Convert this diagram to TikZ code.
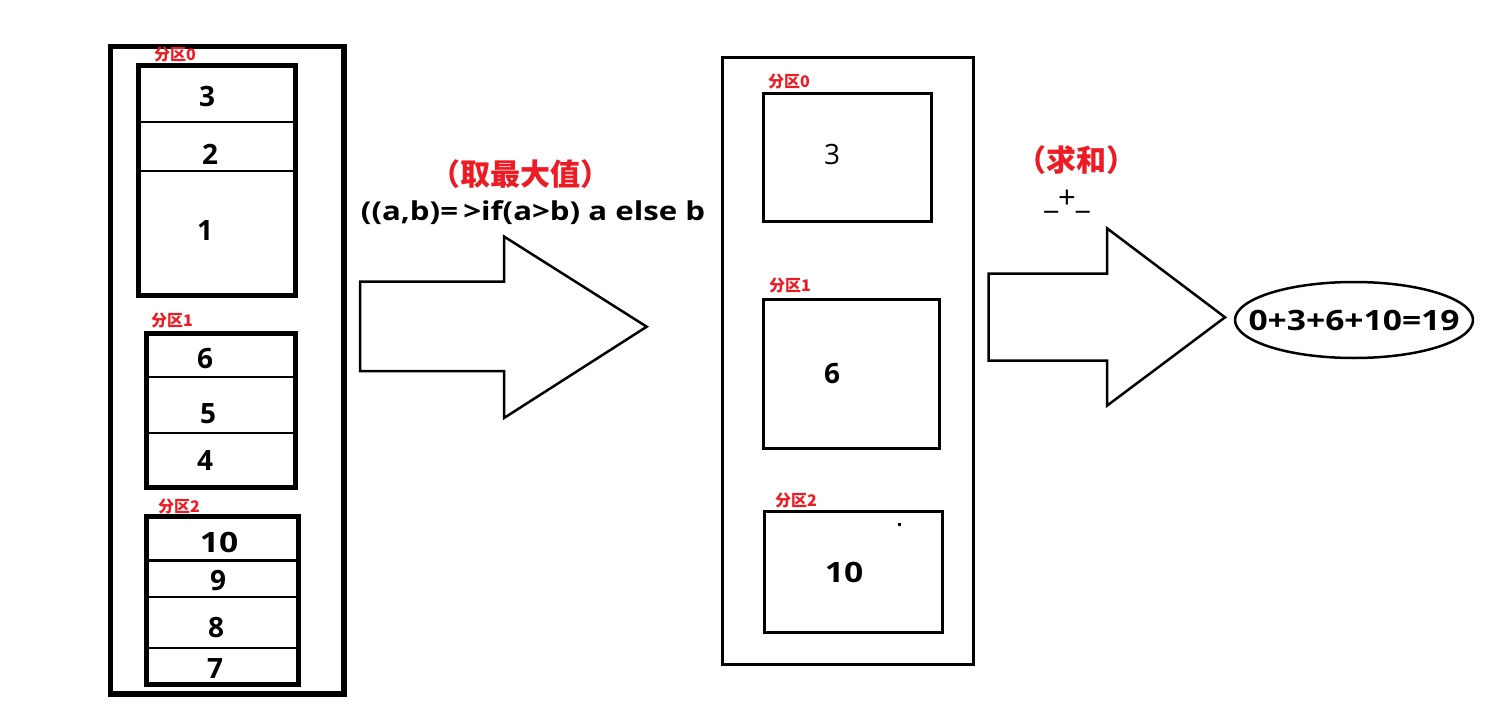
\documentclass[tikz,border=0pt]{standalone}
\usepackage{fontspec}
\setmainfont{Open Sans}
\newfontfamily\cjk{Noto Sans CJK SC}
\usetikzlibrary{shapes.geometric}
\definecolor{pred}{RGB}{237,28,36}
\newcommand{\wide}[1]{\scalebox{1.2}[1]{#1}}
\begin{document}
\begin{tikzpicture}[x=1pt,y=-1pt,
  num/.style={font=\fontsize{28}{28}\selectfont\bfseries, inner sep=0pt},
  numreg/.style={font=\fontsize{28}{28}\selectfont, inner sep=0pt},
  plabel/.style={font=\cjk\bfseries\fontsize{16}{16}\selectfont, text=pred, inner sep=0pt},
  heavy/.style={line width=5.5pt},
  part/.style={line width=5pt},
  divider/.style={line width=2.5pt},
  thinbox/.style={line width=3pt},
  bigarrow/.style={line width=2.5pt, line join=miter, fill=white},
  redtitle/.style={font=\cjk\bfseries\fontsize{30}{30}\selectfont, text=pred, inner sep=0pt},
  formula/.style={font=\fontsize{26}{26}\selectfont\bfseries, inner sep=0pt}
]
\useasboundingbox (0,0) rectangle (1487,711);
\fill[white] (0,0) rectangle (1487,711);

% ---- left column ----
\draw[heavy] (110.5,46.5) rectangle (344,694);

% partition 0
\node[plabel] (l0) at (175,55) {分区0};
\draw[part] (138.5,66) rectangle (295,295);
\draw[divider] (138.5,122) -- (295,122);
\draw[divider] (138.5,171) -- (295,171);
\node[num] (n3) at (207,97) {3};
\node[num] (n2) at (210,154) {2};
\node[num] (n1) at (205,231) {1};

% partition 1
\node[plabel] (l1) at (172,320) {分区1};
\draw[part] (146,333.5) rectangle (295,487);
\draw[divider] (146,377) -- (295,377);
\draw[divider] (146,433) -- (295,433);
\node[num] (n6) at (205,359) {6};
\node[num] (n5) at (208,414) {5};
\node[num] (n4) at (205,461) {4};

% partition 2
\node[plabel] (l2) at (179,506) {分区2};
\draw[part] (146,516.5) rectangle (298.5,684.5);
\draw[divider] (146,560.5) -- (298.5,560.5);
\draw[divider] (146,597) -- (298.5,597);
\draw[divider] (146,648) -- (298.5,648);
\node[num] (n10) at (219,542) {\wide{10}};
\node[num] (n9) at (218,581) {9};
\node[num] (n8) at (216,628) {8};
\node[num] (n7) at (215,669) {7};

% ---- first arrow ----
\node[redtitle] (t1) at (520,174) {（取最大值）};
\node[formula] (f1) at (533,213) {\wide{((a,b)=\,>if(a>b) a else b}};
\draw[bigarrow] (360,281.5) -- (504,281.5) -- (504,236.5) -- (646.7,326.7)
  -- (504,418) -- (504,371) -- (360,371) -- cycle;

% ---- middle column ----
\draw[thinbox] (722,57.5) rectangle (973.5,664);

\node[plabel] (m0) at (789,82) {分区0};
\draw[thinbox] (763.5,93.5) rectangle (931.5,221.5);
\node[numreg] (r3) at (832,155) {3};

\node[plabel] (m1) at (790,285) {分区1};
\draw[thinbox] (763,299.5) rectangle (939.5,448.5);
\node[num] (r6) at (832,374) {6};

\node[plabel] (m2) at (796,500) {分区2};
\draw[thinbox] (764.5,511) rectangle (942,632.5);
\node[num] (r10) at (844,572) {\wide{10}};
\fill (897.5,523.2) rectangle +(3,3);

% ---- second arrow ----
\node[redtitle] (t2) at (1076,160) {（求和）};
\node[font=\fontsize{31}{31}\selectfont, inner sep=0pt, anchor=base] (plus) at (1067,209) {\_+\_};
\draw[bigarrow] (988.5,273.5) -- (1107,273.5) -- (1107,228.3) -- (1225,317.3)
  -- (1107,405.7) -- (1107,360.5) -- (988.5,360.5) -- cycle;

% ---- result ----
\node[draw, ellipse, line width=2.5pt, minimum width=238pt, minimum height=76pt, inner sep=0pt] (res) at (1354,320) {};
\node[num] (sum) at (res.center) {\wide{0+3+6+10=19}};
\end{tikzpicture}
\end{document}
